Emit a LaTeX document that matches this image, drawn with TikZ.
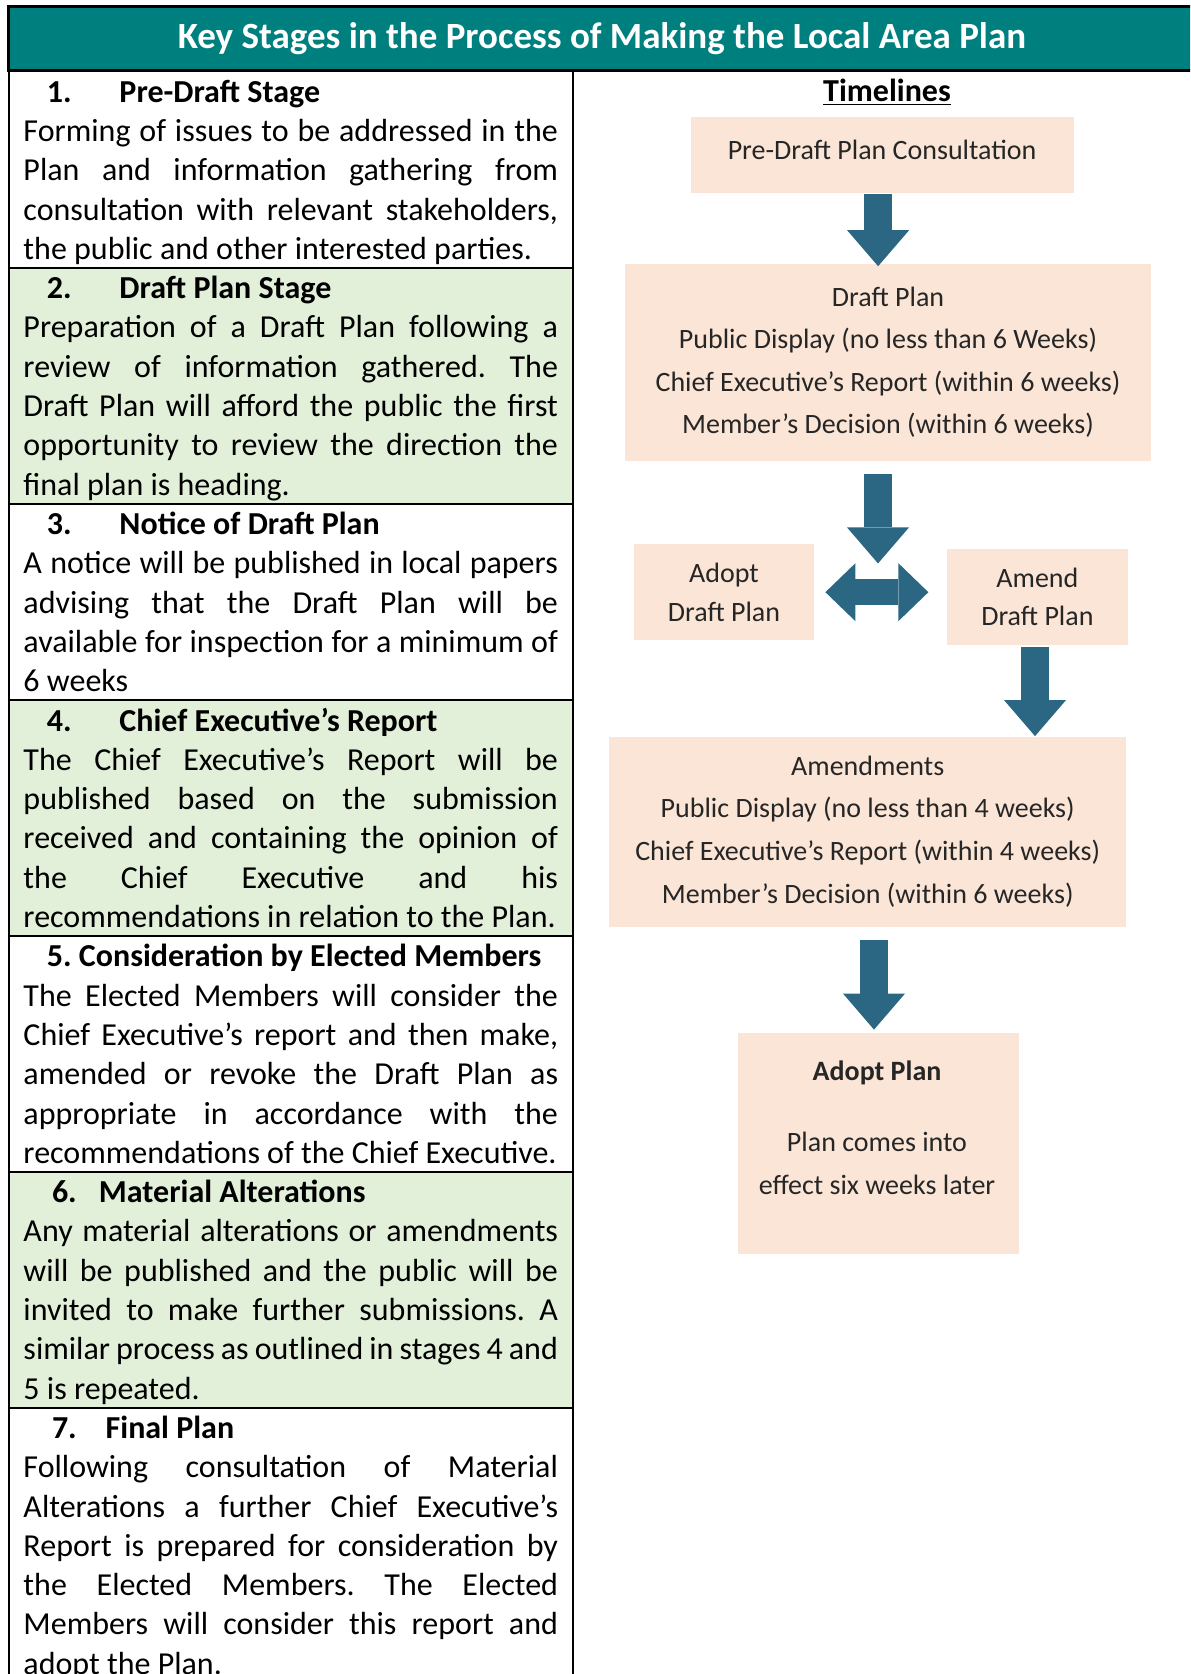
\documentclass[tikz,border=0pt]{standalone}
\usepackage{fontspec}
\setmainfont{Carlito}
\usepackage{tikz}
\usetikzlibrary{positioning, arrows.meta, calc}
\definecolor{tealbar}{HTML}{007F7F}
\definecolor{stagegreen}{HTML}{E2EFD9}
\definecolor{peach}{HTML}{FBE5D6}
\definecolor{arrowblue}{HTML}{2B6682}
\newcommand{\sthead}[4]{\hspace*{#1}\makebox[#2][l]{\textbf{#3}}\textbf{#4}}
\newcommand{\topstrut}{\rule{0pt}{15.35pt}}
\newcommand{\botstrut}{\rule[-4.3pt]{0pt}{4.3pt}}
\hyphenpenalty=10000
\exhyphenpenalty=10000
\frenchspacing

\begin{document}
\begin{tikzpicture}[
    % GLOBAL CFG (one unit = one pixel of the page, y going down)
    x=0.5pt, y=-0.5pt,
    % Styles
    titlebar/.style={% For the teal heading row
        rectangle,
        draw=black,
        line width=1.5pt,
        fill=tealbar,
        text=white,
        font=\fontsize{18.5}{22}\selectfont\bfseries,
        minimum width=593.5pt,
        minimum height=31.75pt,
        inner sep=0pt,
        outer sep=0pt,
        },
    stage/.style={% For one row of the left column
        rectangle,
        draw=black,
        line width=1pt,
        outer sep=0pt,
        text width=267.25pt,
        inner xsep=7.5pt,
        inner ysep=0pt,
        align=justify,
        font=\fontsize{16}{19.65}\selectfont,
        },
    greenstage/.style={% Shaded rows
        stage,
        fill=stagegreen,
        },
    flowbox/.style={% For the boxes of the timeline
        rectangle,
        fill=peach,
        align=center,
        text=black!85,
        inner sep=0pt,
        font=\fontsize{14}{21.3}\selectfont,
        },
    smallbox/.style={% Adopt / Amend boxes
        flowbox,
        font=\fontsize{14}{19.2}\selectfont,
        },
    blockarrow/.style={% Big arrows between the boxes
        draw=arrowblue,
        line width=14pt,
        -{Triangle[width=31pt,length=18pt,line width=0pt]},
        },
    dblarrow/.style={% The two headed arrow
        draw=arrowblue,
        line width=13pt,
        {Triangle[width=29pt,length=15pt,line width=0pt]}-{Triangle[width=29pt,length=15pt,line width=0pt]},
        },
    ]

    \useasboundingbox (0,0) rectangle (1190,1674);
    \clip (0,0) rectangle (1190,1674);

    % Heading row
    \node [titlebar, anchor=north west] (title) at (8.5,7) {Key Stages in the Process of Making the Local Area Plan};

    % Left column, rows named stage#
    \node [stage, anchor=north west] (stage1) at (8.5,71.5) {\noindent\topstrut\sthead{11.75pt}{36.25pt}{1.}{Pre-Draft Stage}\\
        Forming of issues to be addressed in the\linebreak
        Plan and information gathering from\linebreak
        consultation with relevant stakeholders,\linebreak
        the public and other interested parties.\botstrut};
    \node [greenstage, below=0pt of stage1] (stage2) {\noindent\topstrut\sthead{11.75pt}{36.25pt}{2.}{Draft Plan Stage}\\
        Preparation of a Draft Plan following a\linebreak
        review of information gathered. The\linebreak
        Draft Plan will afford the public the first\linebreak
        opportunity to review the direction the\linebreak
        final plan is heading.\botstrut};
    \node [stage, below=0pt of stage2] (stage3) {\noindent\topstrut\sthead{11.75pt}{36.25pt}{3.}{Notice of Draft Plan}\\
        A notice will be published in local papers\linebreak
        advising that the Draft Plan will be\linebreak
        available for inspection for a minimum of\linebreak
        6 weeks\botstrut};
    \node [greenstage, below=0pt of stage3] (stage4) {\noindent\topstrut\sthead{11.75pt}{36.25pt}{4.}{Chief Executive’s Report}\\
        The Chief Executive’s Report will be\linebreak
        published based on the submission\linebreak
        received and containing the opinion of\linebreak
        the Chief Executive and his\linebreak
        recommendations in relation to the Plan.\botstrut};
    \node [stage, below=0pt of stage4] (stage5) {\noindent\topstrut\hspace*{11.75pt}\textbf{5. Consideration by Elected Members}\\
        The Elected Members will consider the\linebreak
        Chief Executive’s report and then make,\linebreak
        amended or revoke the Draft Plan as\linebreak
        appropriate in accordance with the\linebreak
        recommendations of the Chief Executive.\botstrut};
    \node [greenstage, below=0pt of stage5] (stage6) {\noindent\topstrut\sthead{14.25pt}{23.5pt}{6.}{Material Alterations}\\
        Any material alterations or amendments\linebreak
        will be published and the public will be\linebreak
        invited to make further submissions. A\linebreak
        similar process as outlined in stages 4 and\linebreak
        5 is repeated.\botstrut};
    \node [stage, below=0pt of stage6] (stage7) {\noindent\topstrut\sthead{14.25pt}{26.85pt}{7.}{Final Plan}\\
        Following consultation of Material\linebreak
        Alterations a further Chief Executive’s\linebreak
        Report is prepared for consideration by\linebreak
        the Elected Members. The Elected\linebreak
        Members will consider this report and\linebreak
        adopt the Plan.\botstrut};

    % Right column: the timeline
    \node [font=\fontsize{16}{19.65}\selectfont\bfseries] (timelines) at (887,92) {\underline{Timelines}};

    \node [flowbox, text depth=5.4pt, minimum width=191.6pt, minimum height=37.9pt] (consult) at (882.1,155.3) {Pre-Draft Plan Consultation};
    \node [flowbox, minimum width=262.55pt, minimum height=98.7pt] (draft) at (888,362.3) {Draft Plan\\Public Display (no less than 6 Weeks)\\Chief Executive’s Report (within 6 weeks)\\Member’s Decision (within 6 weeks)};
    \node [smallbox, minimum width=90pt, minimum height=48.2pt] (adoptd) at (724,592.2) {Adopt\\Draft Plan};
    \node [smallbox, minimum width=90.65pt, minimum height=48pt] (amendd) at (1037.4,596.6) {Amend\\Draft Plan};
    \node [flowbox, minimum width=258.3pt, minimum height=95pt] (amends) at (867.7,831.5) {Amendments\\Public Display (no less than 4 weeks)\\Chief Executive’s Report (within 4 weeks)\\Member’s Decision (within 6 weeks)};
    \node [flowbox, minimum width=140.9pt, minimum height=110.5pt] (adoptp) at (878.4,1143.5) {};
    \node [align=center, text=black!85, font=\fontsize{14}{21.3}\selectfont] (adoptlbl) at (877,1127.6) {\textbf{Adopt Plan}\\[14.4pt]Plan comes into\\effect six weeks later};

    % Arrows
    \coordinate (fork) at (878,592.4);
    \draw [blockarrow, shorten >=-1.5pt] ([xshift=-2pt]consult.south) -- ([xshift=-2pt]consult.south |- draft.north);
    \draw [blockarrow, shorten <=6.5pt, shorten >=14.5pt] ([xshift=-5pt]draft.south) -- (fork);
    \draw [dblarrow, shorten <=5.5pt, shorten >=9pt] (adoptd.east) -- (adoptd.east -| amendd.west);
    \draw [blockarrow, shorten <=1pt] ([xshift=-1.2pt]amendd.south) -- ([xshift=-1.2pt]amendd.south |- amends.north);
    \draw [blockarrow, shorten <=6.3pt, shorten >=1.5pt] ([xshift=3.15pt]amends.south) -- ([xshift=3.15pt]amends.south |- adoptp.north);
\end{tikzpicture}
\end{document}
